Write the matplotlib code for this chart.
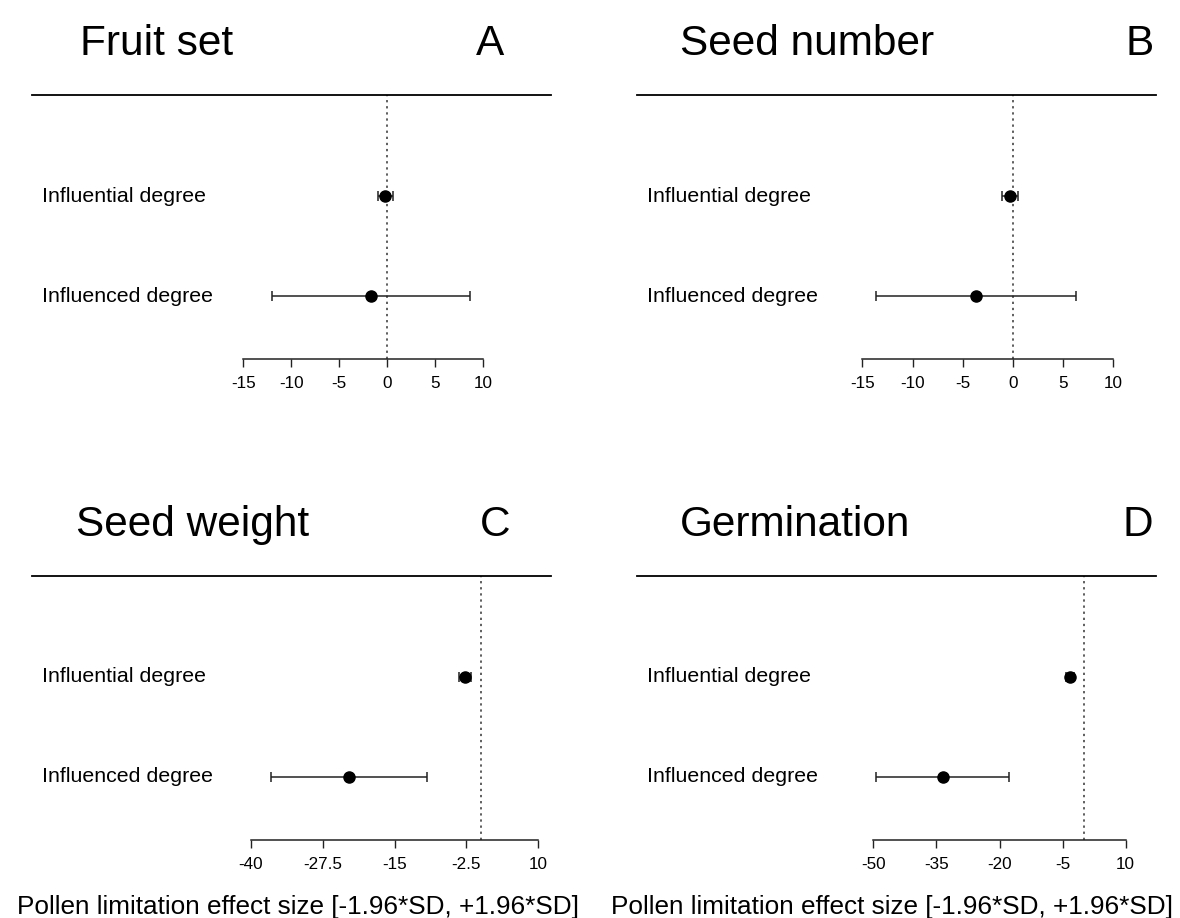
import matplotlib
matplotlib.use("Agg")
import matplotlib.pyplot as plt
from matplotlib.lines import Line2D

plt.rcParams['font.family'] = ['Liberation Sans', 'DejaVu Sans']

# Data
outcomes = ["Fruit set", "Seed number", "Seed weight", "Germination"]
letters = ["A", "B", "C", "D"]
predictors = ["Influential degree", "Influenced degree"]

# effect sizes (Influential, Influenced) and 1.96*SD half widths
est_fruit = [-0.2, -1.7]
ci_fruit = [0.8, 10.35]
est_seednum = [-0.3, -3.65]
ci_seednum = [0.8, 9.95]
est_seedwt = [-2.8, -22.85]
ci_seedwt = [1.05, 13.55]
est_germ = [-3.2, -33.5]
ci_germ = [1.0, 15.8]

ticks_fruit = [-15, -10, -5, 0, 5, 10]
ticks_seednum = [-15, -10, -5, 0, 5, 10]
ticks_seedwt = [-40, -27.5, -15, -2.5, 10]
ticks_germ = [-50, -35, -20, -5, 10]

xlab = "Pollen limitation effect size [-1.96*SD, +1.96*SD]"

W, H = 1180, 918


def fx(px):
    return px / W


def fy(py):
    return 1 - py / H


# pixel layout of each panel: axis x-range, axis y, row ys, top rule, title, letter
layout = [
    dict(ax0=243.3, ax1=483.3, axy=359, r1=196, r2=296, top=95, rule=(32, 551),
         tx=80, lx=490, lab=42, xl=None),
    dict(ax0=862.3, ax1=1113.3, axy=359, r1=196, r2=296, top=95, rule=(637, 1156),
         tx=680, lx=1140, lab=647, xl=None),
    dict(ax0=250.7, ax1=538.3, axy=840, r1=677, r2=777, top=576, rule=(32, 551),
         tx=76, lx=495, lab=42, xl=298),
    dict(ax0=873.3, ax1=1125.7, axy=840, r1=677, r2=777, top=576, rule=(637, 1156),
         tx=680, lx=1138, lab=647, xl=892),
]

panels = [
    (est_fruit, ci_fruit, ticks_fruit),
    (est_seednum, ci_seednum, ticks_seednum),
    (est_seedwt, ci_seedwt, ticks_seedwt),
    (est_germ, ci_germ, ticks_germ),
]


def fmt(v):
    return f"{v:g}"


def draw_panel(fig, i):
    est, ci, ticks = panels[i]
    L = layout[i]
    ax = fig.add_axes([fx(L['ax0']), fy(L['axy']), fx(L['ax1'] - L['ax0']),
                       (L['axy'] - L['top']) / H])
    unit = L['r2'] - L['r1']
    ylo = 1 - (L['axy'] - L['r2']) / unit
    yhi = 2 + (L['r1'] - L['top']) / unit
    ys = [2, 1]

    ax.axvline(0, color='#333333', linestyle=(0, (1.5, 2.5)), linewidth=1.1)
    ax.errorbar(est, ys, xerr=ci, fmt='o', color='black', ecolor='#222222',
                markersize=8, elinewidth=1.1, capsize=3.3, capthick=1.1)

    ax.set_xlim(ticks[0], ticks[-1])
    ax.set_ylim(ylo, yhi)
    ax.set_xticks(ticks)
    ax.set_xticklabels([fmt(t) for t in ticks], fontsize=12.3)
    ax.tick_params(axis='x', length=6, width=1, color='#222222', pad=6.5)
    ax.set_yticks([])
    for s in ['top', 'left', 'right']:
        ax.spines[s].set_visible(False)
    ax.spines['bottom'].set_linewidth(1.1)
    ax.spines['bottom'].set_color('#222222')
    ax.patch.set_alpha(0)

    # top rule
    fig.add_artist(Line2D([fx(L['rule'][0]), fx(L['rule'][1])], [fy(L['top']), fy(L['top'])],
                          transform=fig.transFigure, color='black', linewidth=1.3))
    # row labels
    for lab, y in zip(predictors, [L['r1'], L['r2']]):
        fig.text(fx(L['lab']), fy(y), lab, fontsize=15.4, ha='left', va='center')
    # title and panel letter
    base = L['top'] - 40
    fig.text(fx(L['tx']), fy(base), outcomes[i], fontsize=30.5, ha='left', va='baseline')
    fig.text(fx(L['lx']), fy(base), letters[i], fontsize=30.5, ha='center', va='baseline')
    if L['xl'] is not None:
        fig.text(fx(L['xl']), fy(914), xlab, fontsize=18.8, ha='center', va='baseline')


def main():
    fig = plt.figure(figsize=(W / 100, H / 100), dpi=100)
    for i in range(4):
        draw_panel(fig, i)
    fig.savefig("out.png", dpi=100)
    plt.close(fig)


if __name__ == '__main__':
    main()
